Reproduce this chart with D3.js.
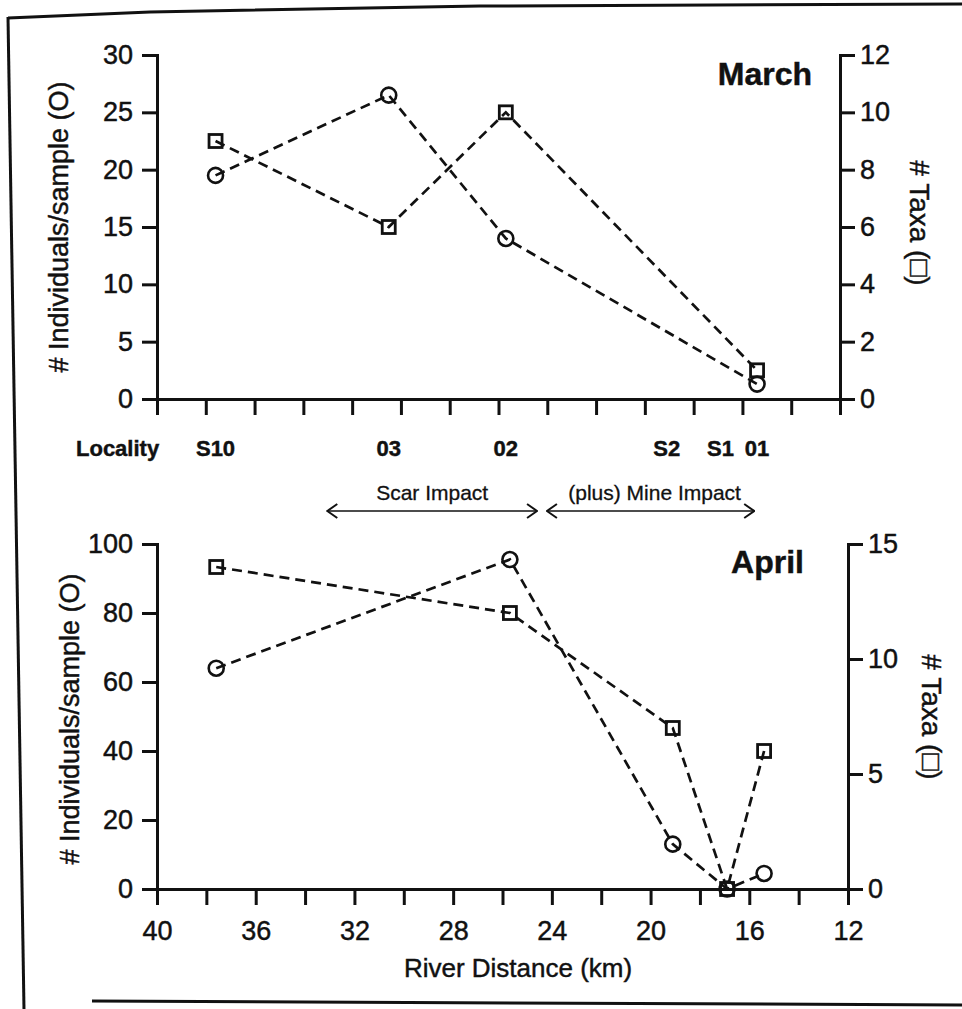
<!DOCTYPE html>
<html>
<head>
<meta charset="utf-8">
<script src="https://cdn.jsdelivr.net/npm/d3@7"></script>
<style>
  html, body { margin: 0; padding: 0; background: #fff; }
  svg { display: block; }
  text { font-family: "Liberation Sans", Arial, Helvetica, sans-serif; fill: #111; stroke: #111; stroke-width: 0.45px; }
</style>
</head>
<body>
<svg id="chart" width="962" height="1009"></svg>
<script>
// Sampling localities and their river distance (km)
const localities = ["S10", "03", "02", "S2", "S1", "01"];
const localityKm = [37.6, 30.5, 25.7, 19.1, 16.9, 15.4];

// March survey
const marchSites = ["S10", "03", "02", "01"];
const marchIndividuals = [19.5, 26.5, 14, 1.3];
const marchTaxa = [9, 6, 10, 1];

// April survey
const aprilSites = ["S10", "02", "S2", "S1", "01"];
const aprilIndividuals = [64, 95.5, 13, 0, 4.5];
const aprilTaxa = [14, 12, 7, 0, 6];

// Axis ticks
const kmTicks = [40, 38, 36, 34, 32, 30, 28, 26, 24, 22, 20, 18, 16, 14, 12];
const kmLabelled = [40, 36, 32, 28, 24, 20, 16, 12];
const marchLeftTicks = [0, 5, 10, 15, 20, 25, 30];
const marchRightTicks = [0, 2, 4, 6, 8, 10, 12];
const aprilLeftTicks = [0, 20, 40, 60, 80, 100];
const aprilRightTicks = [0, 5, 10, 15];

// Impact zones along the river (km)
const impactLabels = ["Scar Impact", "(plus) Mine Impact"];
const impactFrom = [33.1, 24.2];
const impactTo = [24.6, 15.8];

const svg = d3.select("#chart");
const INK = "#111";
const kmOf = name => localityKm[localities.indexOf(name)];

// Scanned page frame
svg.append("path")
  .attr("d", "M8,18 L150,12 L480,6 L962,4")
  .attr("fill", "none").attr("stroke", INK).attr("stroke-width", 3);
svg.append("line")
  .attr("x1", 8).attr("y1", 17).attr("x2", 24).attr("y2", 1009)
  .attr("stroke", INK).attr("stroke-width", 3);
svg.append("line")
  .attr("x1", 92).attr("y1", 1001).attr("x2", 962).attr("y2", 1005)
  .attr("stroke", INK).attr("stroke-width", 3);

const panels = [
  {
    title: "March", titleX: 812, titleY: 85,
    xRange: [157, 840], yBottom: 399, yTop: 55,
    leftMax: 30, leftTicks: marchLeftTicks,
    rightMax: 12, rightTicks: marchRightTicks,
    sites: marchSites, individuals: marchIndividuals, taxa: marchTaxa,
    showKm: false,
    leftLabel: [68, 227], rightLabel: [910, 223]
  },
  {
    title: "April", titleX: 804, titleY: 573,
    xRange: [157, 848], yBottom: 889, yTop: 544,
    leftMax: 100, leftTicks: aprilLeftTicks,
    rightMax: 15, rightTicks: aprilRightTicks,
    sites: aprilSites, individuals: aprilIndividuals, taxa: aprilTaxa,
    showKm: true,
    leftLabel: [79, 719], rightLabel: [922, 717]
  }
];

function styleAxis(g, fontSize) {
  g.attr("font-family", null).attr("font-size", null);
  g.selectAll(".domain").attr("stroke", INK).attr("stroke-width", 3).attr("stroke-linecap", "square");
  g.selectAll(".tick line").attr("stroke", INK).attr("stroke-width", 3);
  g.selectAll(".tick text").style("font-size", fontSize + "px").attr("fill", INK);
}

const dashed = "10,6";

panels.forEach(p => {
  const x = d3.scaleLinear().domain([40, 12]).range(p.xRange);
  const yL = d3.scaleLinear().domain([0, p.leftMax]).range([p.yBottom, p.yTop]);
  const yR = d3.scaleLinear().domain([0, p.rightMax]).range([p.yBottom, p.yTop]);
  const g = svg.append("g");

  // Axes
  g.append("g")
    .attr("transform", `translate(0,${p.yBottom})`)
    .call(d3.axisBottom(x).tickValues(kmTicks).tickSize(16).tickSizeOuter(0).tickPadding(16)
      .tickFormat(d => (p.showKm && kmLabelled.includes(d)) ? d : ""))
    .call(a => styleAxis(a, 27));

  g.append("g")
    .attr("transform", `translate(${p.xRange[0]},0)`)
    .call(d3.axisLeft(yL).tickValues(p.leftTicks).tickSize(15).tickSizeOuter(0).tickPadding(9))
    .call(a => styleAxis(a, 27));

  g.append("g")
    .attr("transform", `translate(${p.xRange[1]},0)`)
    .call(d3.axisRight(yR).tickValues(p.rightTicks).tickSize(15).tickSizeOuter(0).tickPadding(5))
    .call(a => styleAxis(a, 27));

  // Series data
  const indiv = p.sites.map((s, i) => ({ km: kmOf(s), v: p.individuals[i] }));
  const taxa = p.sites.map((s, i) => ({ km: kmOf(s), v: p.taxa[i] }));

  const lineL = d3.line().x(d => x(d.km)).y(d => yL(d.v));
  const lineR = d3.line().x(d => x(d.km)).y(d => yR(d.v));

  g.append("path").datum(indiv).attr("d", lineL)
    .attr("fill", "none").attr("stroke", INK).attr("stroke-width", 2.7).attr("stroke-dasharray", dashed);
  g.append("path").datum(taxa).attr("d", lineR)
    .attr("fill", "none").attr("stroke", INK).attr("stroke-width", 2.7).attr("stroke-dasharray", dashed);

  // Open circles: individuals per sample
  g.selectAll("circle.ind").data(indiv).join("circle")
    .attr("class", "ind")
    .attr("cx", d => x(d.km)).attr("cy", d => yL(d.v)).attr("r", 7.5)
    .attr("fill", "none").attr("stroke", INK).attr("stroke-width", 2.6);

  // Open squares: number of taxa
  const s = 13;
  g.selectAll("rect.tax").data(taxa).join("rect")
    .attr("class", "tax")
    .attr("x", d => x(d.km) - s / 2).attr("y", d => yR(d.v) - s / 2)
    .attr("width", s).attr("height", s)
    .attr("fill", "none").attr("stroke", INK).attr("stroke-width", 2.8);

  // Month title
  g.append("text")
    .attr("x", p.titleX).attr("y", p.titleY)
    .attr("text-anchor", "end")
    .style("font-size", "32px").style("font-weight", "bold")
    .text(p.title);

  // Axis titles
  g.append("text")
    .attr("transform", `translate(${p.leftLabel[0]},${p.leftLabel[1]}) rotate(-90)`)
    .attr("text-anchor", "middle")
    .style("font-size", "27px")
    .text("# Individuals/sample (O)");
  g.append("text")
    .attr("transform", `translate(${p.rightLabel[0]},${p.rightLabel[1]}) rotate(90)`)
    .attr("text-anchor", "middle")
    .style("font-size", "28px")
    .text("# Taxa (\u25A1)");

  // Locality names under the March panel
  if (!p.showKm) {
    g.append("text")
      .attr("x", 76).attr("y", 456)
      .style("font-size", "22px").style("font-weight", "bold")
      .text("Locality");
    g.selectAll("text.loc").data(localities).join("text")
      .attr("class", "loc")
      .attr("x", (d, i) => x(localityKm[i])).attr("y", 456)
      .attr("text-anchor", "middle")
      .style("font-size", "22px").style("font-weight", "bold")
      .text(d => d);
  } else {
    // Impact zone arrows between the panels
    const defs = svg.append("defs");
    defs.append("marker")
      .attr("id", "chev").attr("viewBox", "0 0 12 16")
      .attr("refX", 11).attr("refY", 8)
      .attr("markerWidth", 12).attr("markerHeight", 16)
      .attr("markerUnits", "userSpaceOnUse")
      .attr("orient", "auto-start-reverse")
      .append("path").attr("d", "M1,1 L11,8 L1,15")
      .attr("fill", "none").attr("stroke", INK).attr("stroke-width", 2);

    impactLabels.forEach((lab, i) => {
      const x1 = x(impactFrom[i]), x2 = x(impactTo[i]);
      svg.append("line")
        .attr("x1", x1).attr("y1", 511).attr("x2", x2).attr("y2", 511)
        .attr("stroke", INK).attr("stroke-width", 1.6)
        .attr("marker-start", "url(#chev)").attr("marker-end", "url(#chev)");
      svg.append("text")
        .attr("x", (x1 + x2) / 2 + (i === 1 ? 4 : 0)).attr("y", 500)
        .attr("text-anchor", "middle")
        .style("font-size", "21px")
        .style("stroke-width", "0.3px")
        .text(lab);
    });

    g.append("text")
      .attr("x", 518).attr("y", 977)
      .attr("text-anchor", "middle")
      .style("font-size", "26px")
      .text("River Distance (km)");
  }
});
</script>
</body>
</html>
